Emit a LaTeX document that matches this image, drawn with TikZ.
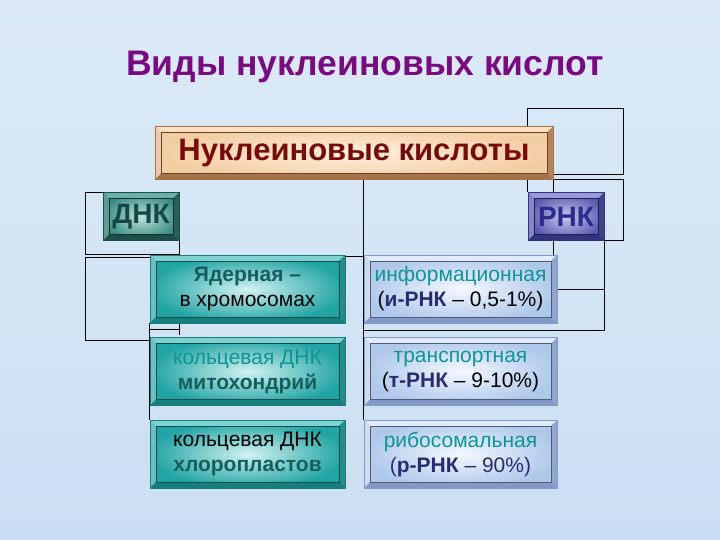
\documentclass[tikz,border=0pt]{standalone}
\usepackage{fontspec}
\setmainfont{Liberation Sans}
\usepackage{tikz}
\usetikzlibrary{positioning,calc}
\definecolor{bgblue}{HTML}{CBDFF2}
\definecolor{bgpale}{HTML}{DCEAF7}
\definecolor{titlepurple}{HTML}{7A0A82}
\definecolor{mainin}{HTML}{FFF1E0}
\definecolor{mainout}{HTML}{F2CDA2}
\definecolor{mainlt}{HTML}{FAE0C0}
\definecolor{maindk}{HTML}{A87248}
\definecolor{maintext}{HTML}{7A0A0A}
\definecolor{dnain}{HTML}{BFE3DC}
\definecolor{dnaout}{HTML}{3A8C82}
\definecolor{dnalt}{HTML}{6AB0A6}
\definecolor{dnadk}{HTML}{1C4F49}
\definecolor{dnatext}{HTML}{174848}
\definecolor{rnain}{HTML}{C8C8EE}
\definecolor{rnaout}{HTML}{5858AE}
\definecolor{rnalt}{HTML}{9A9AD8}
\definecolor{rnadk}{HTML}{34347E}
\definecolor{rnatext}{HTML}{2B2B8C}
\definecolor{leftin}{HTML}{D2F2F2}
\definecolor{leftout}{HTML}{22A4A4}
\definecolor{leftlt}{HTML}{7FD2D2}
\definecolor{leftdk}{HTML}{177E7E}
\definecolor{rightin}{HTML}{F4F8FF}
\definecolor{rightout}{HTML}{AFC8EA}
\definecolor{rightlt}{HTML}{E2EBF8}
\definecolor{rightdk}{HTML}{8299C8}
\definecolor{tealtext}{HTML}{0E9494}
\definecolor{tealdark}{HTML}{165E5E}
\definecolor{navytext}{HTML}{2A2A72}
\pgfdeclarelayer{bg}
\pgfdeclarelayer{links}
\pgfsetlayers{bg,links,main}
\newcommand{\bevw}{6pt}
\tikzset{
  bevel/.style 2 args={path picture={
    \coordinate (pnw) at (path picture bounding box.north west);
    \coordinate (pne) at (path picture bounding box.north east);
    \coordinate (pse) at (path picture bounding box.south east);
    \coordinate (psw) at (path picture bounding box.south west);
    \coordinate (qnw) at ([shift={(\bevw,-\bevw)}]pnw);
    \coordinate (qne) at ([shift={(-\bevw,-\bevw)}]pne);
    \coordinate (qse) at ([shift={(-\bevw,\bevw)}]pse);
    \coordinate (qsw) at ([shift={(\bevw,\bevw)}]psw);
    \fill[#1] (pnw) -- (pne) -- (qne) -- (qnw) -- cycle;
    \fill[#1!80!#2] (pnw) -- (qnw) -- (qsw) -- (psw) -- cycle;
    \fill[#2!85!#1] (pne) -- (pse) -- (qse) -- (qne) -- cycle;
    \fill[#2] (psw) -- (qsw) -- (qse) -- (pse) -- cycle;
    \draw[#2!60!black, line width=0.5pt] (qnw) rectangle (qse);
  }}
}

\begin{document}
\begin{tikzpicture}[x=1pt, y=-1pt,
    node distance=14pt,
    box/.style={draw=#1, line width=0.5pt, inner sep=0pt, align=center,
      font=\fontsize{21}{25}\selectfont},
    mainbox/.style={box=maindk, minimum width=398pt, minimum height=53pt,
      inner color=mainin, outer color=mainout, bevel={mainlt}{maindk},
      text=maintext, font=\bfseries\fontsize{31}{36}\selectfont},
    dnabox/.style={box=dnadk, minimum width=76pt, minimum height=48pt,
      inner color=dnain, outer color=dnaout, bevel={dnalt}{dnadk},
      text=dnatext, font=\bfseries\fontsize{28}{32}\selectfont},
    rnabox/.style={box=rnadk, minimum width=76pt, minimum height=48pt,
      inner color=rnain, outer color=rnaout, bevel={rnalt}{rnadk},
      text=rnatext, font=\bfseries\fontsize{28}{32}\selectfont},
    leftbox/.style={box=leftdk, minimum width=195pt, minimum height=68pt,
      inner color=leftin, outer color=leftout, bevel={leftlt}{leftdk}},
    rightbox/.style={box=rightdk, minimum width=193pt, minimum height=68pt,
      inner color=rightin, outer color=rightout, bevel={rightlt}{rightdk}},
    title/.style={anchor=base, font=\bfseries\fontsize{35.5}{42}\selectfont},
    link/.style={draw=black, line width=0.8pt}
]

\begin{pgfonlayer}{bg}
\shade[top color=bgpale, bottom color=bgblue] (0,0) rectangle (720,540);
\end{pgfonlayer}
\useasboundingbox (0,0) rectangle (720,540);

% title
\node[title, text=titlepurple] (title) at (365,76) {Виды нуклеиновых кислот};

% boxes
\node[mainbox] (main) at (354,153) {Нуклеиновые кислоты};
\node[dnabox] (dna) at (141,216.5) {ДНК};
\node[rnabox] (rna) at (566,216.5) {РНК};

\node[leftbox] (l1) at (247.5,289) {{\bfseries\color{tealdark}Ядерная –}\\в хромосомах};
\node[leftbox, below=of l1] (l2) {{\color{tealtext}кольцевая ДНК}\\{\bfseries\color{tealdark}митохондрий}};
\node[leftbox, below=of l2] (l3) {кольцевая ДНК\\{\bfseries\color{tealdark}хлоропластов}};

\node[rightbox] (r1) at (460.5,289) {{\color{tealtext}информационная}\\({\bfseries\color{navytext}и-РНК} – 0,5-1\%)};
\node[rightbox, below=of r1] (r2) {{\color{tealtext}транспортная}\\({\bfseries\color{navytext}т-РНК} – 9-10\%)};
\node[rightbox, below=of r2] (r3) {{\color{tealtext}рибосомальная}\\{\color{navytext}({\bfseries р-РНК} – 90\%)}};

\coordinate (rim) at (623,0);
\coordinate (lrim) at (85,0);

% connectors
\begin{pgfonlayer}{links}
\draw[link] (main.north -| rna.west) -- ++(0,-18) -| ($(rim |- main.south)+(0,-5)$) -- ($(main.south east)+(0,-5)$);
\draw[link] (main.south east) -| (rim |- rna.south) -- (rna.south east);
\draw[link] (main.south -| rna.west) -- (rna.north west);
\draw[link] (main.south east) -- (main.south east |- r1.north);
\draw[link] (r1.east) -| (rna.south east);
\draw[link] (rna.south east) |- ($(r1.south west)!0.5!(r2.north west)$);
\draw[link] (main.south -| r1.west) |- ($(l1.north east)+(0,2)$);
\draw[link] (r1.north west) -- (r3.north west);
\draw[link] (l1.south west) -- (l3.north west);
\draw[link] (dna.north west) -- (lrim |- dna.north) |- (dna.south east |- l1.north) -- (dna.south east);
\draw[link] (dna.south east) -- ($(dna.south east |- l1.south)+(0,12)$);
\draw[link] ($(l1.south west)+(0,6)$) -- ($(l1.south west -| dna.south east)+(0,6)$);
\draw[link] ($(l1.north west)+(0,3)$) -| ($(lrim |- l2.north)+(0,3)$) -- ($(l2.north west)+(0,3)$);
\end{pgfonlayer}

\end{tikzpicture}
\end{document}
